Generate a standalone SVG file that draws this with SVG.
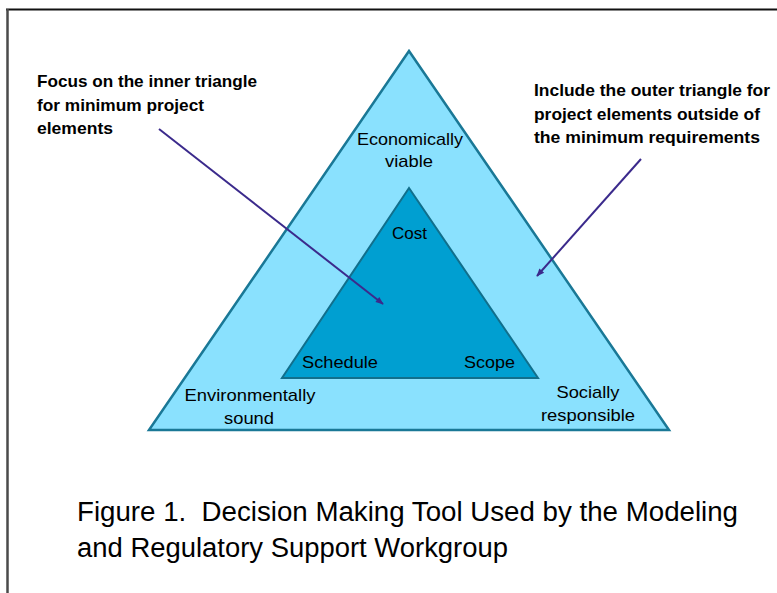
<svg xmlns="http://www.w3.org/2000/svg" width="777" height="593" viewBox="0 0 777 593">
<defs>
<marker id="ah" viewBox="0 0 10 10" refX="9" refY="5" markerWidth="12" markerHeight="8" markerUnits="userSpaceOnUse" orient="auto">
<path d="M0,1 L10,5 L0,9 Z" fill="#3B2A8C"/>
</marker>
<style>
.lbl{font-family:"Liberation Sans",Arial,sans-serif;font-size:17px;fill:#000}
.note{font-family:"Liberation Sans",Arial,sans-serif;font-size:17px;font-weight:bold;fill:#000}
.cap{font-family:"Liberation Sans",Arial,sans-serif;font-size:27px;fill:#000}
.conn{stroke:#3B2A8C;stroke-width:2;fill:none;marker-end:url(#ah)}
</style>
</defs>
<rect width="777" height="593" fill="#fff"/>
<g id="frame">
<line x1="6" y1="9.5" x2="777" y2="9.5" stroke="#111" stroke-width="2"/>
<line x1="7.5" y1="9" x2="7.5" y2="593" stroke="#4a4a4a" stroke-width="2.5"/>
</g>
<g id="outer">
<polygon points="409,51 149,430 669,430" fill="#8AE1FE" stroke="#1A7896" stroke-width="2.5"/>
<text class="lbl" x="410" y="145" text-anchor="middle" textLength="106" lengthAdjust="spacingAndGlyphs">Economically</text>
<text class="lbl" x="409" y="167" text-anchor="middle" textLength="48" lengthAdjust="spacingAndGlyphs">viable</text>
<text class="lbl" x="250" y="401" text-anchor="middle" textLength="131" lengthAdjust="spacingAndGlyphs">Environmentally</text>
<text class="lbl" x="249" y="424" text-anchor="middle" textLength="50" lengthAdjust="spacingAndGlyphs">sound</text>
<text class="lbl" x="588" y="398" text-anchor="middle" textLength="63" lengthAdjust="spacingAndGlyphs">Socially</text>
<text class="lbl" x="588" y="421" text-anchor="middle" textLength="94" lengthAdjust="spacingAndGlyphs">responsible</text>
</g>
<g id="inner">
<polygon points="409,188 282,378 538,378" fill="#009FD1" stroke="#116F8C" stroke-width="2"/>
<text class="lbl" x="409.5" y="239" text-anchor="middle" textLength="35" lengthAdjust="spacingAndGlyphs">Cost</text>
<text class="lbl" x="340" y="368" text-anchor="middle" textLength="76" lengthAdjust="spacingAndGlyphs">Schedule</text>
<text class="lbl" x="489.5" y="368" text-anchor="middle" textLength="51" lengthAdjust="spacingAndGlyphs">Scope</text>
</g>
<g id="note-inner">
<text class="note" x="37" y="87" textLength="220" lengthAdjust="spacingAndGlyphs">Focus on the inner triangle</text>
<text class="note" x="37" y="111" textLength="167" lengthAdjust="spacingAndGlyphs">for minimum project</text>
<text class="note" x="37" y="134" textLength="76" lengthAdjust="spacingAndGlyphs">elements</text>
</g>
<g id="note-outer">
<text class="note" x="534" y="96" textLength="236" lengthAdjust="spacingAndGlyphs">Include the outer triangle for</text>
<text class="note" x="534" y="120" textLength="226" lengthAdjust="spacingAndGlyphs">project elements outside of</text>
<text class="note" x="534" y="143" textLength="226" lengthAdjust="spacingAndGlyphs">the minimum requirements</text>
</g>
<g id="connectors">
<line class="conn" x1="159" y1="129" x2="383" y2="304"/>
<line class="conn" x1="641" y1="159" x2="537" y2="276"/>
</g>
<g id="caption">
<text class="cap" x="77" y="521" xml:space="preserve" textLength="661" lengthAdjust="spacingAndGlyphs">Figure 1.  Decision Making Tool Used by the Modeling</text>
<text class="cap" x="77" y="557" textLength="431" lengthAdjust="spacingAndGlyphs">and Regulatory Support Workgroup</text>
</g>
</svg>
